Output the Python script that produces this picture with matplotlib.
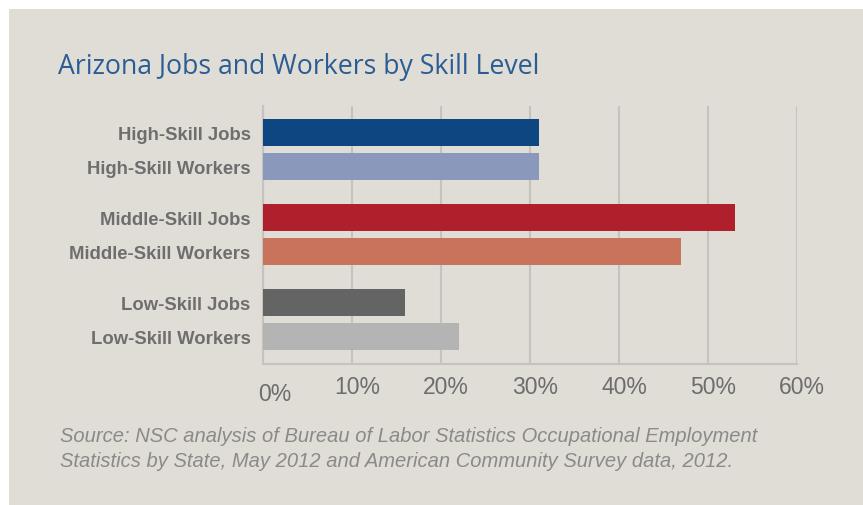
import matplotlib.pyplot as plt
from matplotlib.patches import Rectangle
from matplotlib.transforms import ScaledTranslation

labels = ['High-Skill Jobs', 'High-Skill Workers', 'Middle-Skill Jobs',
          'Middle-Skill Workers', 'Low-Skill Jobs', 'Low-Skill Workers']
values = [31, 31, 53, 47, 16, 22]
colors = ['#0d4680', '#8a98bb', '#b01f2c', '#c9735c', '#646464', '#b4b4b4']
ypos = [0, 1, 2.5, 3.5, 5, 6]
ticks = [0, 10, 20, 30, 40, 50, 60]
tick_labels = ['0%', '10%', '20%', '30%', '40%', '50%', '60%']

bg = '#e0ddd7'
W, H = 863, 506
fig = plt.figure(figsize=(W / 100, H / 100), dpi=100)
fig.patch.set_facecolor('white')
fig.patches.append(Rectangle((9 / W, 0), 1 - 9 / W, 1 - 10 / H, transform=fig.transFigure,
                             facecolor=bg, edgecolor='none', zorder=-5))

ax = fig.add_axes([263 / W, 1 - 365 / H, (797 - 263) / W, (365 - 107) / H])
ax.set_facecolor(bg)
ax.barh(ypos, values, height=0.8, color=colors, zorder=3)
ax.set_xlim(0, 60)
ax.set_ylim(6.8, -0.77)
ax.set_yticks(ypos)
ax.set_yticklabels(labels, fontsize=13.3, fontweight='bold', color='#6e6e6e',
                   family='Liberation Sans')
ax.set_xticks(ticks)
ax.set_xticklabels(tick_labels, fontsize=16.5, color='#6d6d6d', family='Liberation Sans')
ax.tick_params(axis='both', length=0)
ax.tick_params(axis='y', pad=9)
ax.tick_params(axis='x', pad=8)
ax.grid(axis='x', color='#c5c3bf', linewidth=1.5, zorder=1)
for s in ['top', 'right']:
    ax.spines[s].set_visible(False)
for s in ['left', 'bottom']:
    ax.spines[s].set_color('#c5c3bf')
    ax.spines[s].set_linewidth(1.5)

# x labels sit slightly right of their gridlines; 0% is lower and further right
for i, lbl in enumerate(ax.get_xticklabels()):
    dx, dy = (12, -5) if i == 0 else (5, 0)
    lbl.set_transform(lbl.get_transform() + ScaledTranslation(dx / 100, dy / 72, fig.dpi_scale_trans))

fig.text(58 / W, 1 - 67 / H, 'Arizona Jobs and Workers by Skill Level', fontsize=19.2,
         color='#2a5d94', family='Open Sans', va='center', ha='left')
fig.text(60 / W, 1 - 437 / H,
         'Source: NSC analysis of Bureau of Labor Statistics Occupational Employment',
         fontsize=14.5, style='italic', color='#8a8a8a', family='Liberation Sans', va='center')
fig.text(60 / W, 1 - 462 / H,
         'Statistics by State, May 2012 and American Community Survey data, 2012.',
         fontsize=14.5, style='italic', color='#8a8a8a', family='Liberation Sans', va='center')

fig.savefig('out.png', dpi=100, facecolor=fig.get_facecolor())
